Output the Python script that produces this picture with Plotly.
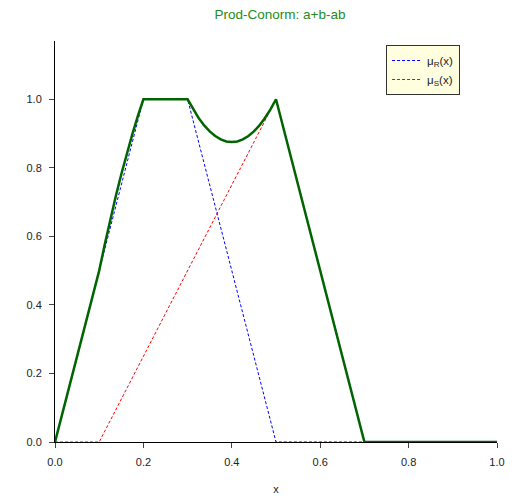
import plotly.graph_objects as go

x_r = [0, 0.2, 0.3, 0.5, 1.0]
mu_r = [0, 1, 1, 0, 0]
x_s = [0, 0.1, 0.5, 0.7, 1.0]
mu_s = [0, 0, 1, 0, 0]
x_c = [0, 0.1, 0.1125, 0.125, 0.1375, 0.15, 0.1625, 0.175, 0.1875, 0.2, 0.3,
       0.3125, 0.325, 0.3375, 0.35, 0.3625, 0.375, 0.3875, 0.4, 0.4125, 0.425,
       0.4375, 0.45, 0.4625, 0.475, 0.4875, 0.5, 0.7, 1.0]
conorm = [0, 0.5, 0.5762, 0.6484, 0.7168, 0.7813, 0.8418, 0.8984, 0.9512, 1, 1,
          0.9707, 0.9453, 0.9238, 0.9063, 0.8926, 0.8828, 0.8770, 0.875, 0.8770, 0.8828,
          0.8926, 0.9063, 0.9238, 0.9453, 0.9707, 1, 0, 0]
y_ticks = [0.0, 0.2, 0.4, 0.6, 0.8, 1.0]
x_ticks = [0.0, 0.2, 0.4, 0.6, 0.8, 1.0]

FONT = "Liberation Sans, Arial"

fig = go.Figure()
fig.add_trace(go.Scatter(x=x_r, y=mu_r, mode="lines", name="μ<sub>R</sub>(x)",
                         line=dict(color="#0000ff", width=1, dash="3px,2px")))
fig.add_trace(go.Scatter(x=x_s, y=mu_s, mode="lines", name="μ<sub>S</sub>(x)",
                         line=dict(color="#ff0000", width=1, dash="3px,2px")))
fig.add_trace(go.Scatter(x=x_c, y=conorm, mode="lines", showlegend=False,
                         line=dict(color="#006400", width=2.5)))

axis_common = dict(showgrid=False, zeroline=False, showline=True, linecolor="black",
                   linewidth=1, ticks="outside", ticklen=5, tickcolor="#444",
                   ticklabelstandoff=5, automargin=False, ticklabeloverflow="allow",
                   tickfont=dict(family=FONT, size=11, color="#222"))
fig.update_layout(
    width=512, height=500,
    margin=dict(l=55, r=15, t=41, b=58),
    paper_bgcolor="white", plot_bgcolor="white",
    title=dict(text="Prod-Conorm: a+b-ab", xref="paper", x=0.509, xanchor="center",
               yref="container", y=0.972, yanchor="middle",
               font=dict(family=FONT, size=13.5, color="#228b22")),
    xaxis=dict(range=[0, 1], tickvals=x_ticks, tickformat=".1f",
               title=dict(text="x", font=dict(family=FONT, size=11, color="#222"),
                          standoff=18), **axis_common),
    yaxis=dict(range=[0, 1.17], tickvals=y_ticks, tickformat=".1f", **axis_common),
    legend=dict(x=0.749, y=0.99, xanchor="left", yanchor="top",
                bgcolor="#ffffe0", bordercolor="#333", borderwidth=1,
                font=dict(family=FONT, size=11.5, color="#222"),
                itemwidth=30, tracegroupgap=0),
    showlegend=True,
)
fig.write_html("out.html")
